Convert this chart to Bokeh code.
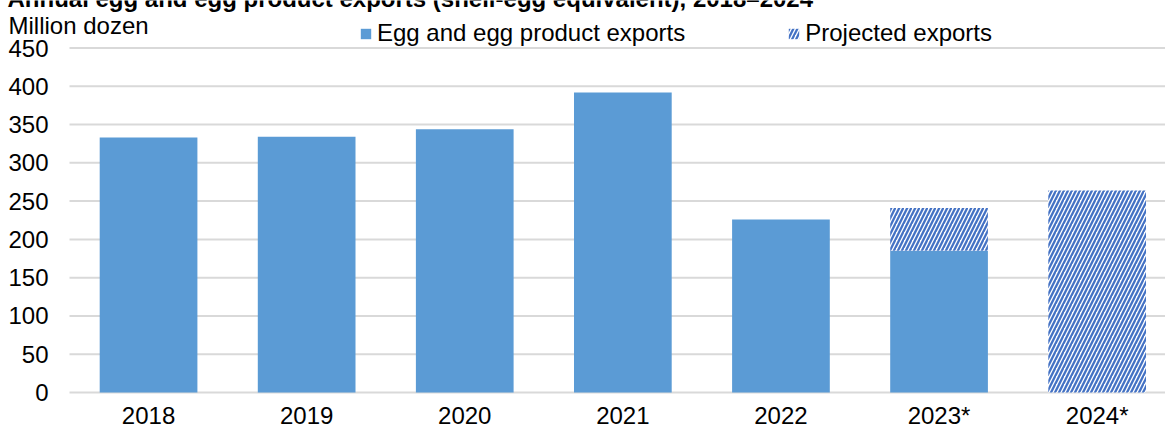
import math
from bokeh.plotting import figure
from bokeh.models import ColumnDataSource, Label, Legend, LegendItem, Range1d, FixedTicker
from bokeh.embed import file_html
from bokeh.resources import INLINE

# ---- data ----
years = ["2018", "2019", "2020", "2021", "2022", "2023*", "2024*"]
exports = [333, 334, 344, 392, 226, 185, float("nan")]
projected_total = [float("nan")] * 5 + [241, 264]
y_ticks = [0, 50, 100, 150, 200, 250, 300, 350, 400, 450]
title_text = "Annual egg and egg product exports (shell-egg equivalent), 2018\u20132024"
y_unit = "Million dozen"

FONT = "Liberation Sans"
BAR = "#5b9bd5"
HATCH = "#4472c4"
GRID = "#d9d9d9"

# layout (pixels)
W, H = 1165, 429
PLOT_L, PLOT_B = 69, 392          # left edge of plot area / pixel row of y = 0
Y_TOP_PX = 47.5                   # pixel row of y = 450
CAT_W = 158.1                     # pixels per category
px_per_unit = (PLOT_B - Y_TOP_PX) / 450.0
x_start_data = -0.5 - PLOT_L / CAT_W
x_end_data = -0.5 + (W - PLOT_L) / CAT_W
y_end_data = PLOT_B / px_per_unit
y_start_data = -(H - PLOT_B) / px_per_unit

xs = list(range(len(years)))
proj_bottom = [0 if math.isnan(e) else e for e in exports]

src_a = ColumnDataSource(dict(x=[x for x, e in zip(xs, exports) if not math.isnan(e)],
                              top=[e for e in exports if not math.isnan(e)]))
src_p = ColumnDataSource(dict(x=[x for x, t in zip(xs, projected_total) if not math.isnan(t)],
                              top=[t for t in projected_total if not math.isnan(t)],
                              bottom=[b for b, t in zip(proj_bottom, projected_total) if not math.isnan(t)]))
src_grid = ColumnDataSource(dict(y=y_ticks, x0=[-0.5] * len(y_ticks), x1=[x_end_data] * len(y_ticks)))

p = figure(width=W, height=H, output_backend="svg", toolbar_location=None,
           x_range=Range1d(x_start_data, x_end_data), y_range=Range1d(y_start_data, y_end_data),
           min_border_left=0, min_border_right=0, min_border_top=0, min_border_bottom=0)
p.outline_line_color = None
p.background_fill_color = "white"
p.border_fill_color = "white"
p.xgrid.grid_line_color = None
p.ygrid.grid_line_color = None

# horizontal gridlines at the y ticks, limited to the plot area
p.segment(x0="x0", x1="x1", y0="y", y1="y", source=src_grid, line_color=GRID, line_width=2)

ra = p.vbar(x="x", top="top", bottom=0, width=0.618, source=src_a,
            fill_color=BAR, line_color=None)
rp = p.vbar(x="x", top="top", bottom="bottom", width=0.618, source=src_p,
            fill_color="white", line_color=None, hatch_pattern="/",
            hatch_color=HATCH, hatch_scale=8, hatch_weight=2.3)

# y axis drawn at the left edge of the plot area
p.yaxis.fixed_location = -0.5
p.yaxis.ticker = FixedTicker(ticks=y_ticks)
p.yaxis.axis_line_color = None
p.yaxis.major_tick_line_color = None
p.yaxis.minor_tick_line_color = None
p.yaxis.major_tick_out = 0
p.yaxis.minor_tick_out = 0
p.yaxis.major_label_text_font = FONT
p.yaxis.major_label_text_font_size = "24px"
p.yaxis.major_label_text_color = "black"
p.yaxis.major_label_standoff = 21

# x axis drawn at y = 0
p.xaxis.fixed_location = 0
p.xaxis.ticker = FixedTicker(ticks=xs)
p.xaxis.major_label_overrides = {i: y for i, y in enumerate(years)}
p.xaxis.axis_line_color = None
p.xaxis.major_tick_line_color = None
p.xaxis.minor_tick_line_color = None
p.xaxis.major_tick_out = 0
p.xaxis.minor_tick_out = 0
p.xaxis.major_label_text_font = FONT
p.xaxis.major_label_text_font_size = "24px"
p.xaxis.major_label_text_color = "black"
p.xaxis.major_label_standoff = 9

legend = Legend(items=[LegendItem(label="Egg and egg product exports", renderers=[ra]),
                       LegendItem(label="Projected exports", renderers=[rp])],
                orientation="horizontal", location=(359, H - 47),
                label_text_font=FONT, label_text_font_size="24px", label_text_color="black",
                glyph_width=13, glyph_height=13, label_standoff=5, spacing=102,
                padding=0, margin=0, border_line_color=None, background_fill_alpha=0)
p.add_layout(legend, "center")

p.add_layout(Label(x=7, y=H + 2, x_units="screen", y_units="screen", text=title_text,
                   text_font=FONT, text_font_size="24px", text_font_style="bold",
                   text_color="black", text_baseline="alphabetic"))
p.add_layout(Label(x=8, y=H - 25, x_units="screen", y_units="screen", text=y_unit,
                   text_font=FONT, text_font_size="24px", text_color="black",
                   text_baseline="middle"))

open("out.html", "w").write(file_html(p, INLINE))
